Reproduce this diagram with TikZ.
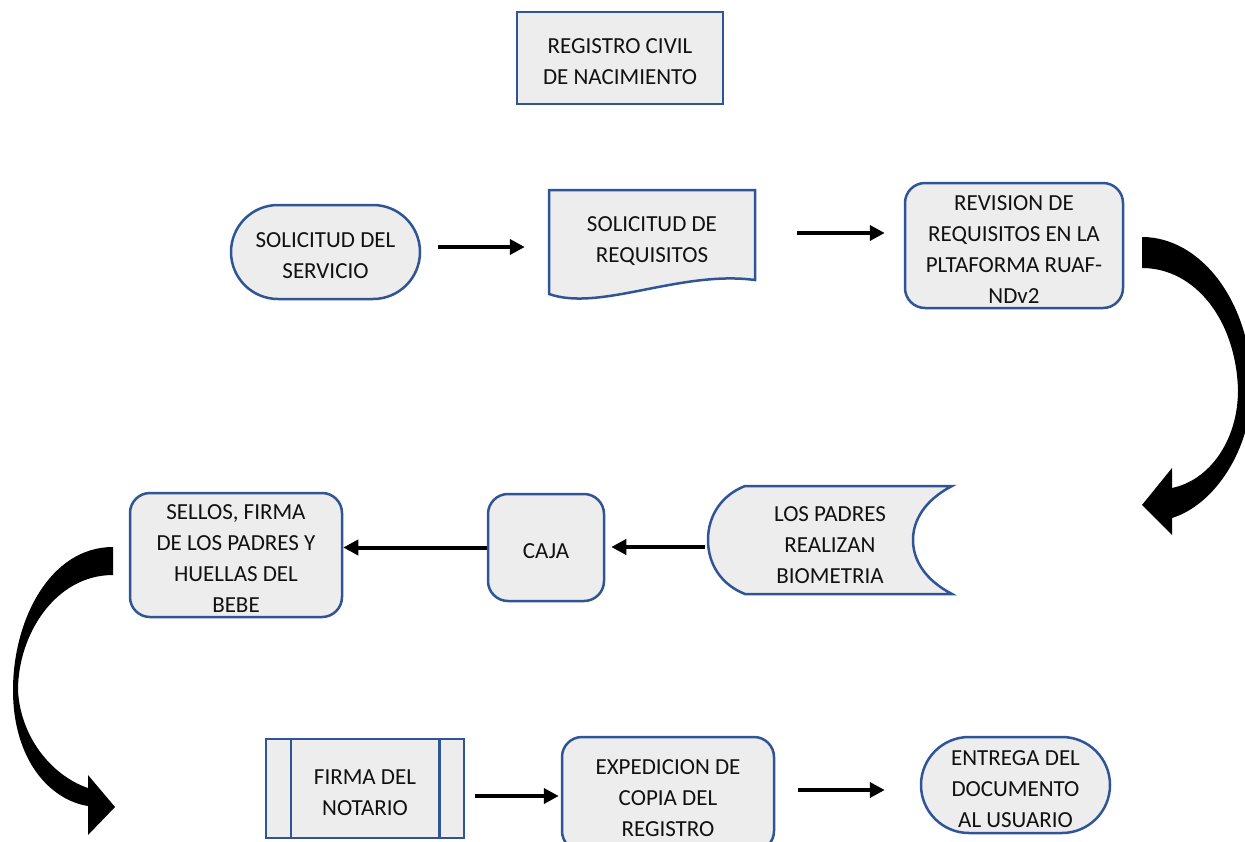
\documentclass[tikz,border=0pt]{standalone}
\usepackage{fontspec}
\setmainfont{Carlito}
\usetikzlibrary{arrows.meta,calc}
\definecolor{bord}{HTML}{2F5597}
\definecolor{boxfill}{HTML}{EDEDED}
\definecolor{txt}{HTML}{111111}
\newcommand{\boxtext}[1]{\raisebox{-5pt}[\height][\depth]{\begin{tabular}{@{}c@{}}#1\end{tabular}}}
\begin{document}
\begin{tikzpicture}[x=1pt,y=-1pt,
  lbl/.style={font=\fontsize{23}{31}\selectfont, text=txt, align=center, inner sep=0pt},
  shapeline/.style={draw=bord, fill=boxfill, line width=2.5pt},
  plainbox/.style={lbl, shapeline},
  roundbox/.style={lbl, shapeline, rounded corners=20pt},
  arr/.style={line width=4pt, -{Triangle[length=15pt,width=15pt]}},
  curvearrow/.style={fill=black}]
\useasboundingbox (0,0) rectangle (1245,841);
\clip (0,0) rectangle (1245,841);

% title
\node[plainbox, minimum width=206pt, minimum height=92pt] (title) at (620,58) {\boxtext{REGISTRO CIVIL\\DE NACIMIENTO}};

% row 1
\node[lbl, shapeline, rounded corners=47pt, minimum width=189pt, minimum height=94pt] (sol) at (325.5,252) {\boxtext{SOLICITUD DEL\\SERVICIO}};

\draw[shapeline] (549,190) -- (755,190) -- (755,280) .. controls (680,270) and (600,312) .. (549,294) -- cycle;
\node[lbl, minimum width=206pt, minimum height=92pt] (doc) at (652,236) {\boxtext{SOLICITUD DE\\REQUISITOS}};

\node[roundbox, minimum width=218pt, minimum height=125pt] (rev) at (1014,245.5) {\boxtext{REVISION DE\\REQUISITOS EN LA\\PLTAFORMA RUAF-\\NDv2}};

% row 2
\draw[shapeline] (745,486) -- (952,486) .. controls (925,500) and (913,520) .. (913,540) .. controls (913,560) and (925,580) .. (952,594) -- (745,594) .. controls (722,585) and (708,565) .. (708,540) .. controls (708,515) and (722,495) .. (745,486) -- cycle;
\node[lbl, minimum width=244pt, minimum height=108pt] (bio) at (830,541) {\boxtext{LOS PADRES\\REALIZAN\\BIOMETRIA}};

\node[roundbox, minimum width=116pt, minimum height=107pt] (caja) at (546,547.5) {\boxtext{CAJA}};

\node[roundbox, minimum width=212pt, minimum height=122pt] (sellos) at (236,555) {\boxtext{SELLOS, FIRMA\\DE LOS PADRES Y\\HUELLAS DEL\\BEBE}};

% row 3
\node[plainbox, minimum width=198pt, minimum height=99pt] (notario) at (365,788.5) {\boxtext{FIRMA DEL\\NOTARIO}};
\draw[bord, line width=2.5pt] ([xshift=26pt]notario.north west) -- ([xshift=26pt]notario.south west);
\draw[bord, line width=2.5pt] ([xshift=-26pt]notario.north east) -- ([xshift=-26pt]notario.south east);

\node[roundbox, minimum width=212pt, minimum height=114pt] (exp) at (668,794) {\boxtext{EXPEDICION DE\\COPIA DEL\\REGISTRO}};

\node[lbl, shapeline, rounded corners=48pt, minimum width=189pt, minimum height=96pt] (ent) at (1015.5,785) {\boxtext{ENTREGA DEL\\DOCUMENTO\\AL USUARIO}};

% straight connectors
\draw[arr] ([xshift=17pt,yshift=5pt]sol.east) -- ([xshift=-24pt,yshift=5pt]sol.east -| doc.west);
\draw[arr] ([xshift=42pt,yshift=3pt]doc.east) -- ([xshift=-19pt,yshift=3pt]doc.east -| rev.west);
\draw[arr] ([xshift=-3pt,yshift=-6pt]bio.west) -- ([xshift=6pt,yshift=-6pt]bio.west -| caja.east);
\draw[arr] (caja.west) -- (caja.west -| sellos.east);
\draw[arr] ([xshift=10pt,yshift=-7.5pt]notario.east) -- ([xshift=-2pt,yshift=-7.5pt]notario.east -| exp.west);
\draw[arr] ([xshift=23pt,yshift=4pt]exp.east) -- ([xshift=-35pt,yshift=4pt]exp.east -| ent.west);

% curved block arrows
\fill[curvearrow] (1142,237) .. controls (1200,237) and (1250,300) .. (1252,385) .. controls (1252,450) and (1214,505) .. (1172,518) -- (1172,535) -- (1142,505) -- (1172,468) -- (1172,488) .. controls (1210,480) and (1238,440) .. (1238,390) .. controls (1236,320) and (1195,268) .. (1142,268) -- cycle;

\fill[curvearrow] (113,547) .. controls (50,547) and (13,620) .. (13,690) .. controls (13,760) and (50,800) .. (88,806) -- (88,835) -- (115,807) -- (88,775) -- (88,788) .. controls (50,775) and (20,735) .. (18,690) .. controls (18,635) and (55,575) .. (113,575) -- cycle;
\end{tikzpicture}
\end{document}
